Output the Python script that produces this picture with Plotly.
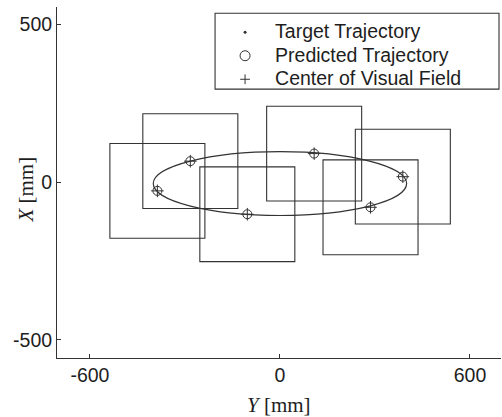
import plotly.graph_objects as go

# Centres of the visual field (same instants as the predicted positions), mm
center_y = [-387, -283, -103, 108, 388, 286]
center_x = [-28, 66, -102, 90, 17, -80]
field_size = 300  # side length of the square visual field, mm

# Target trajectory: elliptical path, bounding extents in mm
target_y_bounds = [-400, 400]
target_x_bounds = [-106, 96]

y_ticks = [-600, 0, 600]
y_tick_text = ["-600", "0", "600"]
x_ticks = [-500, 0, 500]
x_tick_text = ["-500", "0", "500"]

series_names = ["Target Trajectory", "Predicted Trajectory", "Center of Visual Field"]

INK = "#333333"
TEXT = "#1e1e1e"
SANS = "Liberation Sans, Arial, Helvetica, sans-serif"
SERIF = "Liberation Serif, Times New Roman, serif"


def legend_label(name):
    return '<span style="font-size:19.5px">' + name + "</span>"


fig = go.Figure()

# markers in the plot: predicted positions and visual-field centres coincide
fig.add_trace(go.Scatter(
    x=center_y, y=center_x, mode="markers", showlegend=False,
    marker=dict(symbol="circle-open", size=9, color=INK, line=dict(width=1, color=INK)),
))
fig.add_trace(go.Scatter(
    x=center_y, y=center_x, mode="markers", showlegend=False,
    marker=dict(symbol="cross-thin-open", size=9, color=INK, line=dict(width=1, color=INK)),
))

# legend keys
legend_markers = [
    dict(symbol="circle", size=3, color=INK),
    dict(symbol="circle-open", size=10, color=INK, line=dict(width=1, color=INK)),
    dict(symbol="cross-thin-open", size=7, color=INK, line=dict(width=1, color=INK)),
]
for name, mk in zip(series_names, legend_markers):
    fig.add_trace(go.Scatter(
        x=[None], y=[None], mode="markers", name=legend_label(name), marker=mk,
    ))

# elliptical target path
fig.add_shape(
    type="circle", xref="x", yref="y",
    x0=target_y_bounds[0], x1=target_y_bounds[1],
    y0=target_x_bounds[0], y1=target_x_bounds[1],
    line=dict(color=INK, width=1.2),
)

# square visual fields around each centre
half = field_size / 2
for cy, cx in zip(center_y, center_x):
    fig.add_shape(
        type="rect", xref="x", yref="y",
        x0=cy - half, x1=cy + half, y0=cx - half, y1=cx + half,
        line=dict(color=INK, width=1.1),
    )

# frame around the legend
fig.add_shape(
    type="rect", xref="paper", yref="paper",
    x0=0.356, x1=0.9955, y0=0.766, y1=0.982,
    line=dict(color=INK, width=1.1),
)

axis_common = dict(
    showgrid=False, zeroline=False, showline=True, linecolor=INK, linewidth=1,
    ticks="inside", ticklen=4, tickcolor=INK, tickwidth=1,
    tickfont=dict(family=SANS, size=19.5, color=TEXT),
)
fig.update_xaxes(range=[-704, 698], tickvals=y_ticks, ticktext=y_tick_text, **axis_common)
fig.update_yaxes(range=[-557, 554], tickvals=x_ticks, ticktext=x_tick_text, **axis_common)

fig.add_annotation(
    text="<i>Y</i> [mm]", xref="paper", yref="paper", x=0.5, y=-0.135,
    xanchor="center", yanchor="middle", showarrow=False,
    font=dict(family=SERIF, size=21, color=TEXT),
)
fig.add_annotation(
    text="<i>X</i> [mm]", xref="paper", yref="paper", x=-0.072, y=0.48,
    xanchor="center", yanchor="middle", showarrow=False, textangle=-90,
    font=dict(family=SERIF, size=21, color=TEXT),
)

fig.update_layout(
    width=502, height=417,
    margin=dict(l=57, r=1, t=7, b=59),
    paper_bgcolor="white", plot_bgcolor="white",
    showlegend=True,
    legend=dict(
        x=0.356, y=0.976, xanchor="left", yanchor="top",
        bgcolor="rgba(255,255,255,0)", borderwidth=0,
        itemwidth=50,
        font=dict(family=SANS, size=15.8, color=TEXT),
    ),
)

fig.write_html("out.html")
